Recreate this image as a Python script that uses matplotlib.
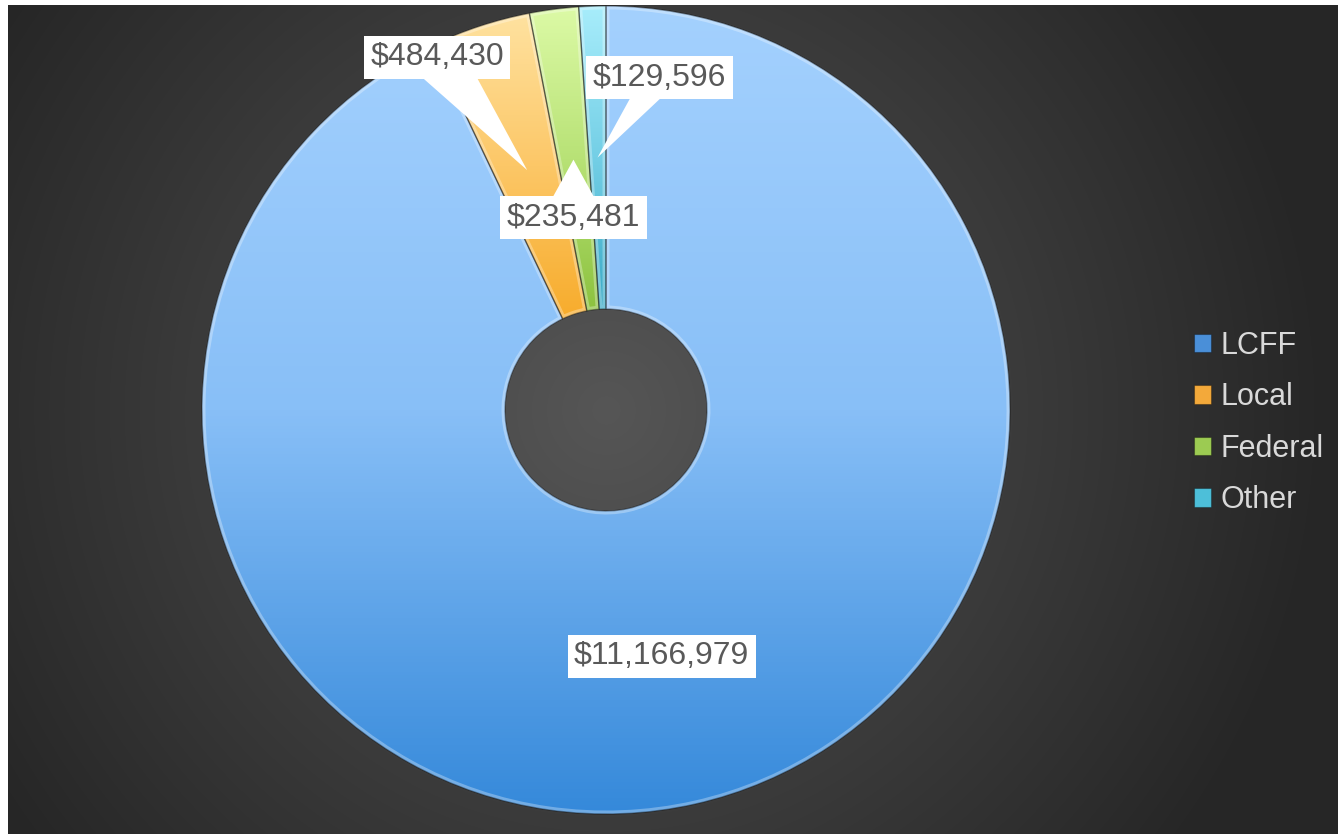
import numpy as np
import matplotlib.pyplot as plt
from matplotlib.colors import LinearSegmentedColormap
from matplotlib.patches import Patch, Wedge

plt.rcParams['font.family'] = ['Liberation Sans', 'DejaVu Sans']

# data
categories = ['LCFF', 'Local', 'Federal', 'Other']
amounts = [11166979, 484430, 235481, 129596]
value_labels = ['$11,166,979', '$484,430', '$235,481', '$129,596']

# gradient stops per slice (top -> bottom)
grad_stops = [['#A4D1FE', '#88BFF7', '#3589DA'],
              ['#FFE2A0', '#FCC767', '#F7AC2C'],
              ['#DCFAA6', '#B8E276', '#8CC23F'],
              ['#A8EDFB', '#74CFE6', '#3AAAC6']]
legend_colors = ['#4A8FD8', '#F3A93A', '#9CCB52', '#4DBFD9']
# label offsets from the slice point (pixels) and callout widths
label_offsets = [(0, 0), (-90, 113), (0, -58), (62, 80)]
callout_widths = [0, 1.6, 2.0, 1.0]

W, H = 1338, 834
fig = plt.figure(figsize=(W / 100, H / 100), dpi=100, facecolor='white')

# dark radial background
bg = fig.add_axes([8 / W, 0, (W - 8) / W, (H - 5) / H])
yy, xx = np.mgrid[5:H, 8:W]
d = np.hypot(xx - 606, yy - 410)
shade = np.clip(0.337 - 0.00026 * d, 0.15, None)
bg.imshow(np.dstack([shade] * 3), aspect='auto', extent=(0, 1, 0, 1))
bg.axis('off')

# donut
R, cx, cy = 404, 606, 410
ax = fig.add_axes([(cx - R) / W, (H - cy - R) / H, 2 * R / W, 2 * R / H])
ax.patch.set_alpha(0)
wedges, _ = ax.pie(amounts, startangle=90, counterclock=False, radius=1,
                   wedgeprops=dict(width=0.75, fc='none', ec=(0, 0, 0, 0.35), lw=1))

for w, stops in zip(wedges, grad_stops):
    ext = w.get_path().get_extents()
    cmap = LinearSegmentedColormap.from_list('g', stops)
    grad = np.linspace(0, 1, 256).reshape(-1, 1)
    im = ax.imshow(grad, cmap=cmap, extent=(ext.x0, ext.x1, ext.y0, ext.y1),
                   origin='upper', aspect='auto', zorder=0.5)
    im.set_clip_path(w)
    # soft bevel highlight
    hl = Wedge(w.center, w.r, w.theta1, w.theta2, width=w.width,
               fc='none', ec=(1, 1, 1, 0.3), lw=5, zorder=0.8)
    ax.add_patch(hl)
    hl.set_clip_path(hl)

ax.set_xlim(-1, 1)
ax.set_ylim(-1, 1)
ax.set_aspect('auto')
ax.axis('off')

# data labels with callouts
for i, w in enumerate(wedges):
    ang = np.deg2rad((w.theta1 + w.theta2) / 2)
    tip = (0.625 * np.cos(ang), 0.625 * np.sin(ang))
    arrow = None
    if callout_widths[i] > 0:
        arrow = dict(arrowstyle='wedge,tail_width=%.2f,shrink_factor=0.5' % callout_widths[i],
                     fc='white', ec='none', shrinkA=0, shrinkB=0, patchA=None)
    ax.annotate(value_labels[i], xy=tip, xytext=label_offsets[i],
                textcoords='offset pixels', ha='center', va='center',
                fontsize=23, color='#595959', arrowprops=arrow,
                bbox=dict(boxstyle='square,pad=0.2', fc='white', ec='none'))

handles = [Patch(fc=c, ec=(0, 0, 0, 0.3), lw=0.8) for c in legend_colors]
fig.legend(handles, categories, loc='center left',
           bbox_to_anchor=(1194 / W, 1 - 423 / H), frameon=False,
           fontsize=22, labelcolor='#D9D9D9', handlelength=0.56,
           handleheight=0.56, handletextpad=0.3, labelspacing=0.7,
           borderpad=0, borderaxespad=0)

fig.savefig('out.png', dpi=100)
